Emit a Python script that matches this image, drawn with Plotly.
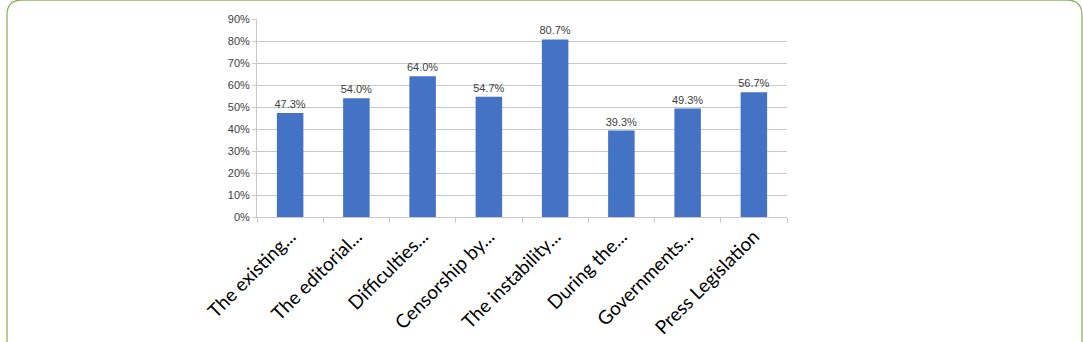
import plotly.graph_objects as go

categories = ["The existing...", "The editorial...", "Difficulties...", "Censorship by...",
              "The instability...", "During the...", "Governments...", "Press Legislation"]
values = [47.3, 54.0, 64.0, 54.7, 80.7, 39.3, 49.3, 56.7]
y_ticks = [0, 10, 20, 30, 40, 50, 60, 70, 80, 90]
y_tick_labels = [f"{v}%" for v in y_ticks]

W, H = 1083, 342
L, R, T, B = 257, 787, 19, 217

fig = go.Figure(go.Bar(
    x=categories, y=values,
    marker=dict(color="#4472c4", line=dict(width=0)),
    text=[f"{v:.1f}%" for v in values],
    textposition="outside",
    constraintext="none",
    textfont=dict(family="Liberation Sans, Arial", size=11, color="#404040"),
    cliponaxis=False,
))

def px(x):
    return (x - L) / (R - L)

def py(y):
    return (B - y) / (B - T)

r = 15
path = (f"M {px(7)},{py(345)} L {px(7)},{py(r)} Q {px(7)},{py(0)} {px(7 + r)},{py(0)} "
        f"L {px(1082 - r)},{py(0)} Q {px(1082)},{py(0)} {px(1082)},{py(r)} L {px(1082)},{py(345)}")

fig.update_layout(
    width=W, height=H,
    margin=dict(l=L, r=W - R, t=T, b=H - B, pad=0, autoexpand=False),
    paper_bgcolor="white", plot_bgcolor="white",
    bargap=0.6,
    showlegend=False,
    shapes=[dict(type="path", xref="paper", yref="paper", path=path,
                 line=dict(color="#8db35e", width=1.3), layer="below")],
    xaxis=dict(
        type="category",
        tickangle=-45,
        automargin=False,
        tickfont=dict(family="Lato, Open Sans", size=19, color="#000000"),
        showline=True, linecolor="#c8c8c8", linewidth=1,
        ticks="outside", ticklen=5, tickcolor="#c8c8c8", tickson="boundaries",
        showgrid=False, fixedrange=True,
    ),
    yaxis=dict(
        range=[0, 90],
        automargin=False,
        tickvals=y_ticks, ticktext=y_tick_labels,
        tickfont=dict(family="Liberation Sans, Arial", size=11, color="#404040"),
        showgrid=True, gridcolor="#c8c8c8", gridwidth=1,
        showline=True, linecolor="#c8c8c8", linewidth=1,
        ticks="outside", ticklen=4, tickcolor="#c8c8c8",
        zeroline=False, fixedrange=True,
    ),
)

fig.write_html("out.html")
